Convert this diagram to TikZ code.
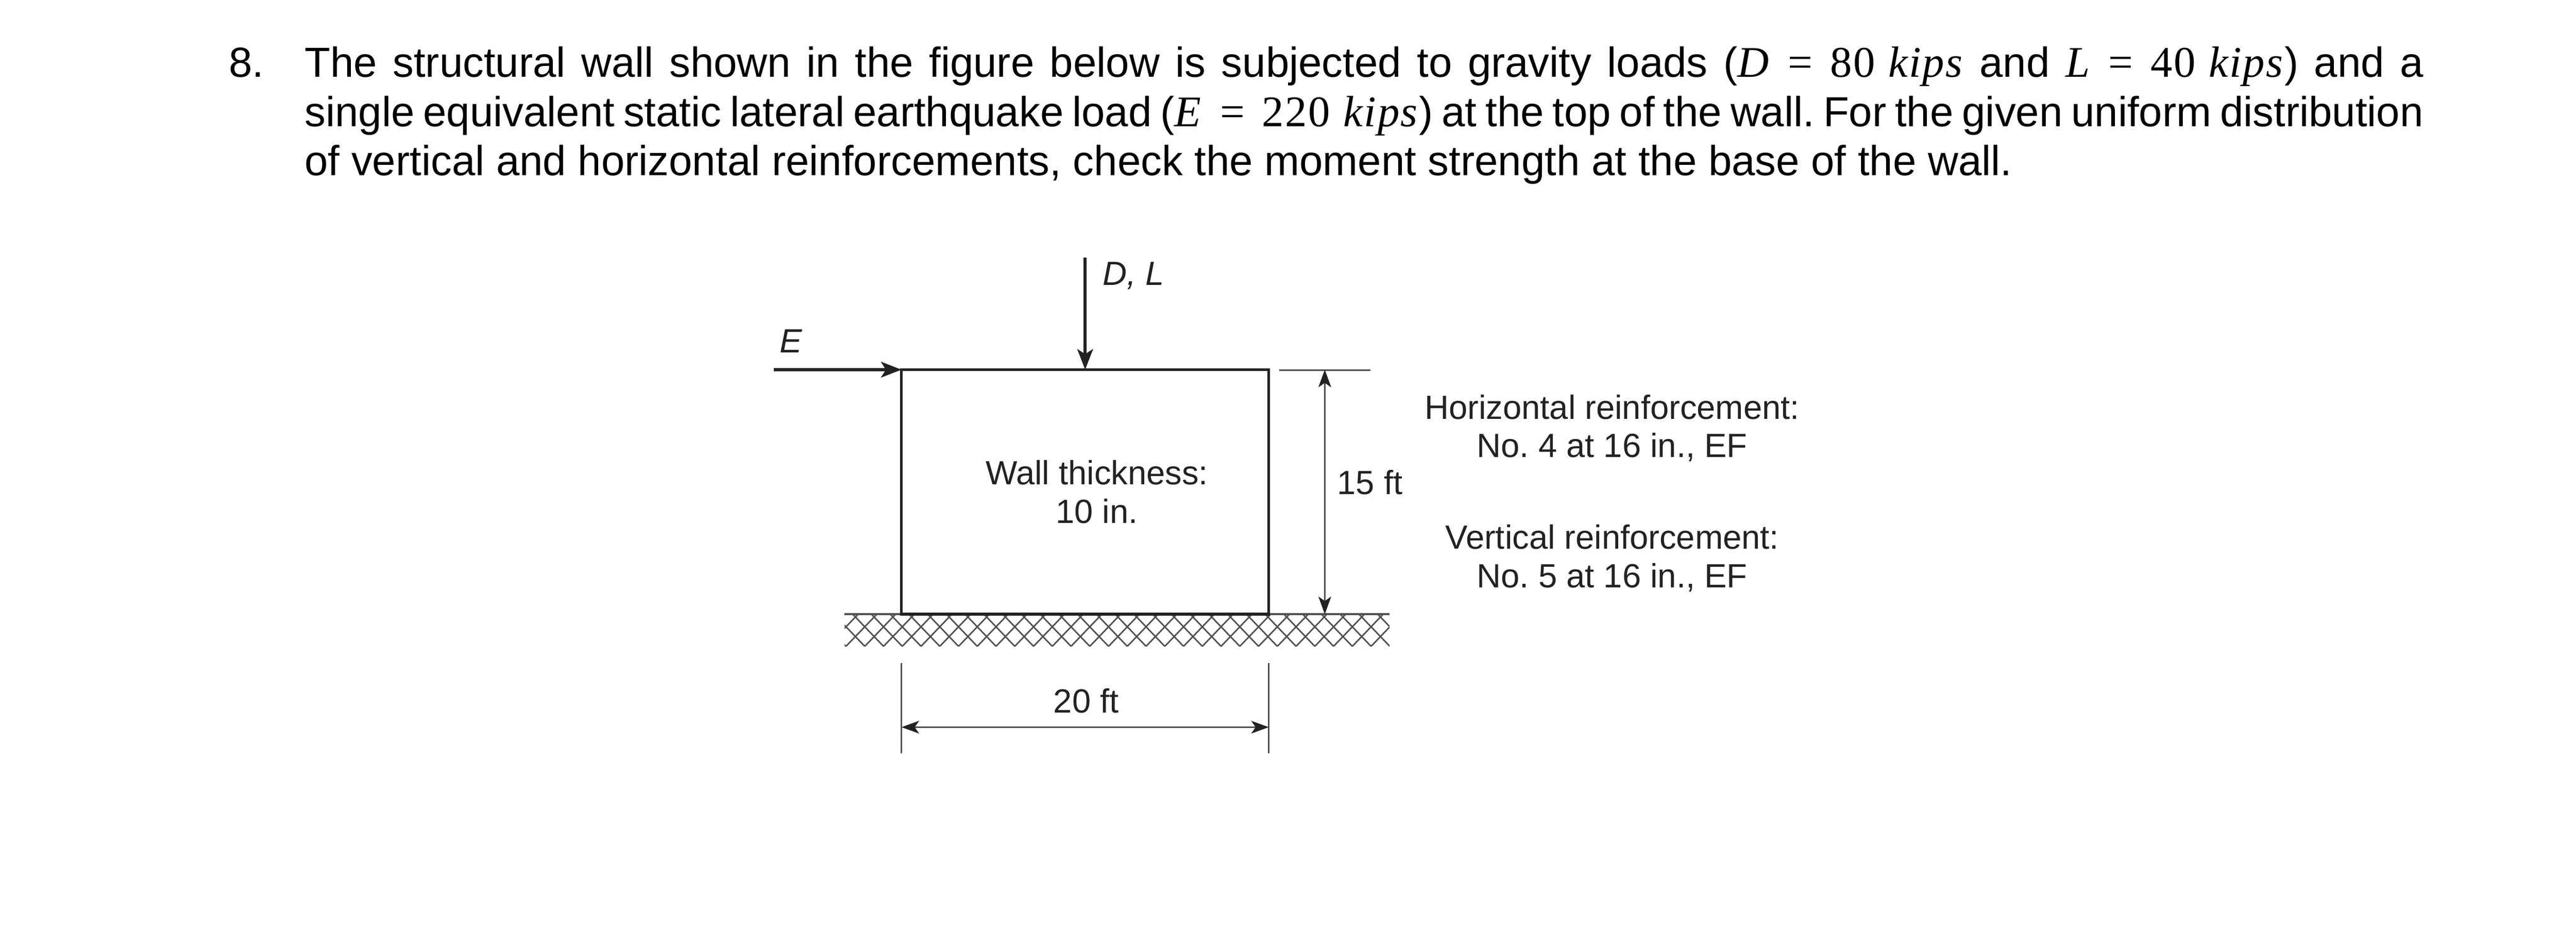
\documentclass[tikz,border=0pt]{standalone}
\usepackage{fontspec}
\setmainfont{Liberation Sans}
\newfontfamily\serifmath[Scale=1.04,LetterSpace=3]{Liberation Serif}
\usetikzlibrary{arrows.meta}
\definecolor{inkdark}{HTML}{222222}
\definecolor{inkdim}{HTML}{505050}
\newcommand{\justline}[1]{\makebox[43.5cm][s]{\spaceskip=.2em plus 1fil\relax #1}}
\newcommand{\loadval}[2]{{\serifmath\textit{#1}\hspace{.4em}=\hspace{.4em}#2\hspace{.3em}\textit{kips}}}
\tikzset{
  problemtext/.style={anchor=base west,inner sep=0pt,font=\fontsize{24.55}{28}\selectfont},
  figtext/.style={inner sep=0pt,align=center,text=inkdark,font=\fontsize{19.6}{22.4}\selectfont},
  loadarrow/.style={inkdark,line width=.065cm,-{Stealth[length=.42cm,width=.32cm,inset=.1cm]}},
  dimline/.style={inkdim,line width=.03cm},
  dimarrow/.style={dimline,{Stealth[inkdark,length=.36cm,width=.26cm,inset=.09cm]}-{Stealth[inkdark,length=.36cm,width=.26cm,inset=.09cm]}},
}

\begin{document}
\frenchspacing
\begin{tikzpicture}
    \useasboundingbox (0,0) rectangle (52.89,19.46);
    % problem statement
    \node [problemtext] (number) at (4.69,17.88) {8.};
    \node [problemtext] (lineone) at (6.25,17.88) {\justline{The structural wall shown in the figure below is subjected to gravity loads (\loadval{D}{80} and \loadval{L}{40}) and a}};
    \node [problemtext] (linetwo) at (6.25,16.86) {\justline{single equivalent static lateral earthquake load (\loadval{E}{220}) at the top of the wall. For the given uniform distribution}};
    \node [problemtext] (linethree) at (6.25,15.86) {of vertical and horizontal reinforcements, check the moment strength at the base of the wall.};
    % ground
    \begin{scope}
      \clip (17.34,6.85) rectangle (28.53,6.18);
      \foreach \x in {16.215,16.6,...,29.8}
        \draw [inkdim,line width=.03cm] (\x,6.19) -- +(.643,.67) (\x,6.19) -- +(-.643,.67);
    \end{scope}
    \coordinate (groundleft) at (17.34,6.85);
    \coordinate (groundright) at (28.53,6.85);
    \draw [inkdim,line width=.035cm] (groundleft) -- (groundright);
    % wall and loads
    \node [draw=inkdark,line width=.055cm,minimum width=7.54cm,minimum height=5.02cm,inner sep=0pt,outer sep=0pt] (wall) at (22.28,9.36) {};
    \coordinate (etail) at (15.89,11.87);
    \coordinate (dtail) at (22.28,14.17);
    \draw [loadarrow] (etail) -- (wall.north west);
    \draw [loadarrow] (dtail) -- (wall.north);
    \node [figtext,anchor=base west] (dlabel) at (22.63,13.61) {\textit{D, L}};
    \node [figtext,anchor=base west] (elabel) at (16.00,12.22) {\textit{E}};
    \node [figtext] (thick) at (22.52,9.36) {Wall thickness:\\10 in.};
    % height dimension
    \coordinate (hightop) at (27.2,11.87);
    \coordinate (highbase) at (27.2,6.85);
    \coordinate (extleft) at (26.27,11.86);
    \coordinate (extright) at (28.14,11.86);
    \draw [dimline] (extleft) -- (extright);
    \draw [dimarrow] (hightop) -- (highbase);
    \node [figtext,anchor=base west] (height) at (27.45,9.31) {15 ft};
    % width dimension
    \coordinate (widthleft) at (18.51,4.53);
    \coordinate (widthright) at (26.05,4.53);
    \coordinate (leftupper) at (18.51,5.85);
    \coordinate (leftlower) at (18.51,3.99);
    \coordinate (rightupper) at (26.05,5.85);
    \coordinate (rightlower) at (26.05,3.99);
    \draw [dimline] (leftupper) -- (leftlower);
    \draw [dimline] (rightupper) -- (rightlower);
    \draw [dimarrow] (widthleft) -- (widthright);
    \node [figtext,anchor=base] (width) at (22.30,4.82) {20 ft};
    % reinforcement notes
    \node [figtext] (horiz) at (33.1,10.67) {Horizontal reinforcement:\\No. 4 at 16 in., EF};
    \node [figtext] (vert) at (33.1,8.0) {Vertical reinforcement:\\No. 5 at 16 in., EF};
\end{tikzpicture}
\end{document}
